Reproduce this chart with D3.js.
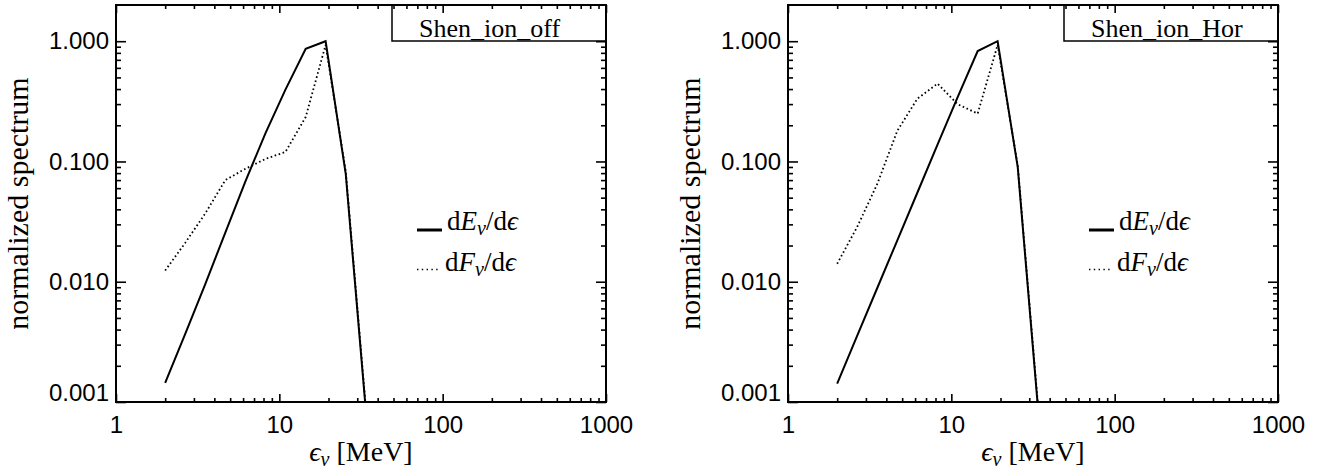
<!DOCTYPE html>
<html>
<head>
<meta charset="utf-8">
<script src="https://cdn.jsdelivr.net/npm/d3@7"></script>
<style>
  body { margin: 0; background: #fff; }
  svg text { fill: #000; }
  .tick line { stroke: #000; stroke-width: 1.6; }
  .tick text { font-family: "Liberation Sans", Arial, Helvetica, sans-serif; font-size: 24px; }
</style>
</head>
<body>
<svg id="chart" width="1324" height="475"></svg>
<script>
'use strict';

// energy bin centres (MeV)
const energyBins = [2.0, 2.65, 3.52, 4.67, 6.2, 8.23, 10.9, 14.5, 19.2, 25.5, 33.9];

// Shen_ion_off
const offEnergySpec = [0.00144, 0.00367, 0.00957, 0.0256, 0.0684, 0.172, 0.396, 0.866, 1.0, 0.079, 0.00083];
const offNumberSpec = [0.0124, 0.021, 0.037, 0.07, 0.087, 0.105, 0.12, 0.234, 0.93, 0.083, 0.00088];

// Shen_ion_Hor
const horEnergySpec = [0.00142, 0.00355, 0.00887, 0.0221, 0.0552, 0.138, 0.34, 0.828, 1.0, 0.0897, 0.0009];
const horNumberSpec = [0.0141, 0.0285, 0.065, 0.18, 0.333, 0.444, 0.30, 0.25, 0.93, 0.093, 0.00095];

const panelNames = ['Shen_ion_off', 'Shen_ion_Hor'];
const xTickValues = [1, 10, 100, 1000];
const yTickValues = [0.001, 0.01, 0.1, 1];
const yTickLabels = ['0.001', '0.010', '0.100', '1.000'];

const svg = d3.select('#chart');
svg.append('rect').attr('width', 1324).attr('height', 475).attr('fill', '#fff');

const plotTop = 5, plotBottom = 402, plotW = 490;
const serif = '"Liberation Serif", "Times New Roman", "DejaVu Serif", serif';

const minorX = [];
[1, 10, 100].forEach(d => { for (let k = 2; k < 10; k++) minorX.push(d * k); });
const minorY = [];
[0.001, 0.01, 0.1].forEach(d => { for (let k = 2; k < 10; k++) minorY.push(d * k); });

function drawPanel (g, left, name, dE, dF, idx) {
  const x = d3.scaleLog().domain([1, 1000]).range([left, left + plotW]);
  const y = d3.scaleLog().domain([0.001, 2]).range([plotBottom, plotTop]);

  const clipId = 'clip' + idx;
  g.append('clipPath').attr('id', clipId)
    .append('rect').attr('x', left).attr('y', plotTop).attr('width', plotW).attr('height', plotBottom - plotTop);

  // axes: major + minor, on all four sides, ticks pointing inward
  const addAxis = (axis, tx, ty) => {
    const a = g.append('g').attr('transform', `translate(${tx},${ty})`).call(axis);
    a.select('.domain').remove();
    return a;
  };

  const xb = addAxis(d3.axisBottom(x).tickValues(xTickValues).tickSize(-8).tickPadding(14)
    .tickFormat(d3.format('d')), 0, plotBottom);
  xb.selectAll('text').attr('dy', '0.71em');
  addAxis(d3.axisBottom(x).tickValues(minorX).tickSize(-4).tickFormat(''), 0, plotBottom);
  addAxis(d3.axisTop(x).tickValues(xTickValues).tickSize(-8).tickFormat(''), 0, plotTop);
  addAxis(d3.axisTop(x).tickValues(minorX).tickSize(-4).tickFormat(''), 0, plotTop);

  const yl = addAxis(d3.axisLeft(y).tickValues(yTickValues).tickSize(-10).tickPadding(7)
    .tickFormat((d, i) => yTickLabels[i]), left, 0);
  yl.selectAll('text').filter(d => d === 0.001).attr('dy', '-0.05em');
  addAxis(d3.axisLeft(y).tickValues(minorY).tickSize(-5).tickFormat(''), left, 0);
  addAxis(d3.axisRight(y).tickValues(yTickValues).tickSize(-10).tickFormat(''), left + plotW, 0);
  addAxis(d3.axisRight(y).tickValues(minorY).tickSize(-5).tickFormat(''), left + plotW, 0);

  // frame
  g.append('rect')
    .attr('x', left).attr('y', plotTop).attr('width', plotW).attr('height', plotBottom - plotTop)
    .attr('fill', 'none').attr('stroke', '#000').attr('stroke-width', 2);

  // curves
  const line = d3.line().x((d, i) => x(energyBins[i])).y(d => y(d));
  const curves = g.append('g').attr('clip-path', `url(#${clipId})`);
  curves.append('path').datum(dE).attr('d', line)
    .attr('fill', 'none').attr('stroke', '#000').attr('stroke-width', 2).attr('stroke-linejoin', 'miter');
  curves.append('path').datum(dF).attr('d', line)
    .attr('fill', 'none').attr('stroke', '#000').attr('stroke-width', 1.8).attr('stroke-dasharray', '1.6,2.6');

  // label box
  const boxW = 214;
  g.append('rect')
    .attr('x', left + plotW - boxW).attr('y', plotTop).attr('width', boxW).attr('height', 36)
    .attr('fill', 'none').attr('stroke', '#000').attr('stroke-width', 1.5);
  g.append('text')
    .attr('x', left + plotW - boxW + 27).attr('y', plotTop + 32)
    .style('font-family', serif).style('font-size', '26px')
    .text(name);

  // legend
  const lx = left + 301;
  g.append('line').attr('x1', lx).attr('x2', lx + 25).attr('y1', 230).attr('y2', 230)
    .attr('stroke', '#000').attr('stroke-width', 3);
  g.append('line').attr('x1', lx).attr('x2', lx + 24).attr('y1', 269.5).attr('y2', 269.5)
    .attr('stroke', '#000').attr('stroke-width', 1.4).attr('stroke-dasharray', '1.4,3.4');

  const legendText = (tx, ty, sym) => {
    const t = g.append('text').attr('x', tx).attr('y', ty)
      .style('font-family', serif).style('font-size', '27px');
    t.append('tspan').text('d');
    t.append('tspan').style('font-style', 'italic').text(sym);
    t.append('tspan').style('font-style', 'italic').style('font-size', '20px').attr('dy', 5).text('ν');
    t.append('tspan').attr('dy', -5).text('/d');
    t.append('tspan').style('font-style', 'italic').text('ϵ');
  };
  legendText(lx + 30, 229.5, 'E');
  legendText(lx + 28, 271, 'F');

  // axis titles
  const xt = g.append('text')
    .attr('x', left + plotW / 2).attr('y', 461).attr('text-anchor', 'middle')
    .style('font-family', serif).style('font-size', '28px');
  xt.append('tspan').style('font-style', 'italic').text('ϵ');
  xt.append('tspan').style('font-style', 'italic').style('font-size', '20px').attr('dy', 5).text('ν');
  xt.append('tspan').attr('dy', -5).text(' [MeV]');

  g.append('text')
    .attr('transform', `translate(${left - 88},${(plotTop + plotBottom) / 2}) rotate(-90)`)
    .attr('text-anchor', 'middle')
    .style('font-family', serif).style('font-size', '30px')
    .text('normalized spectrum');
}

drawPanel(svg.append('g'), 116, panelNames[0], offEnergySpec, offNumberSpec, 0);
drawPanel(svg.append('g'), 788, panelNames[1], horEnergySpec, horNumberSpec, 1);
</script>
</body>
</html>
